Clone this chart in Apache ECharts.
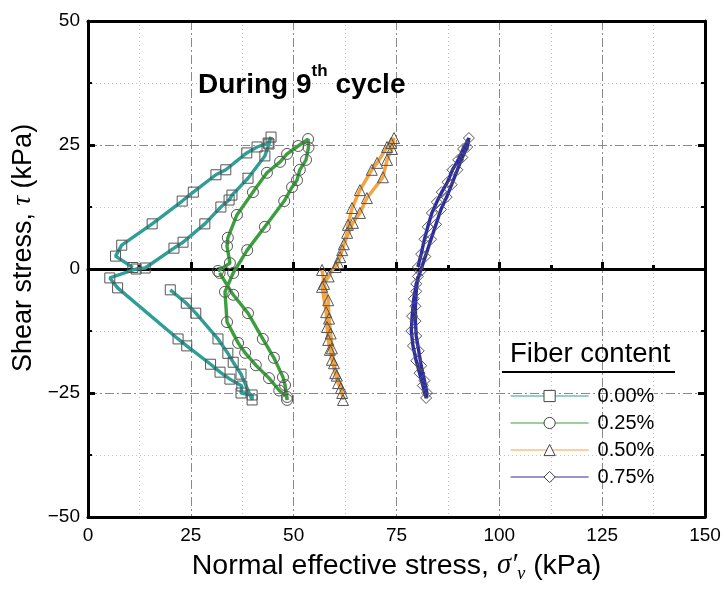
<!DOCTYPE html>
<html>
<head>
<meta charset="utf-8">
<script src="https://cdn.jsdelivr.net/npm/echarts@6/dist/echarts.min.js"></script>
<style>
  html, body { margin: 0; padding: 0; background: #fff; }
  #chart { width: 725px; height: 594px; }
</style>
</head>
<body>
<div id="chart"></div>
<script>
// fiber content labels
const fiberLabels = ['0.00%', '0.25%', '0.50%', '0.75%'];

// [normal effective stress (kPa), shear stress (kPa)]
const fiber000 = [
  [10.9, 0.3], [6.7, 2.6], [8.2, 4.8], [15.6, 9.1], [22.9, 13.7], [25.6, 15.5], [31.1, 19.0],
  [33.5, 20.0], [38.6, 23.4], [41.1, 24.6], [43.8, 25.4], [44.5, 26.6],
  [44.0, 25.2], [43.0, 22.8], [38.9, 18.3], [35.0, 14.9], [34.3, 13.9], [32.3, 12.5],
  [28.4, 9.1], [23.1, 5.4], [20.9, 4.2], [13.9, 0.2], [11.7, 0.0],
  [5.3, -1.8], [7.2, -3.8], [21.9, -14.1], [24.0, -15.5], [29.8, -19.2], [32.1, -20.8],
  [34.5, -22.2], [37.4, -23.6], [37.2, -25.0], [39.9, -25.4], [39.9, -26.4],
  [37.2, -21.2], [35.3, -18.8], [34.0, -17.0], [31.6, -14.1], [26.2, -8.9], [23.9, -6.9], [20.0, -4.2]
];
const fiber025 = [
  [31.6, -0.4], [34.5, 1.2], [33.8, 4.6], [34.0, 6.3], [36.2, 10.9], [40.1, 15.5], [43.5, 19.4],
  [46.7, 21.6], [48.4, 23.2], [51.1, 24.8], [53.5, 26.2],
  [53.6, 24.5], [53.0, 22.0], [51.5, 20.0], [50.8, 17.9], [49.6, 16.5], [47.7, 13.7],
  [43.0, 8.5], [38.7, 3.8], [35.3, -0.8],
  [33.3, -4.6], [33.8, -10.7], [36.5, -14.9], [38.2, -16.9], [40.8, -19.4], [44.0, -22.0],
  [46.5, -24.5], [48.4, -25.8], [48.4, -26.4],
  [47.9, -23.4], [47.4, -21.8], [45.2, -17.9], [42.5, -14.1], [38.9, -8.9], [35.3, -5.2], [32.0, -0.8]
];
const fiber050 = [
  [60.2, 0.4], [60.8, 1.2], [61.8, 3.8], [63.0, 7.3], [63.2, 8.9], [64.2, 12.3], [66.1, 15.9],
  [69.0, 20.0], [70.3, 21.4], [72.7, 24.6], [73.7, 25.4], [74.4, 26.4],
  [73.9, 24.2], [72.7, 22.0], [71.7, 18.5], [67.8, 14.3], [66.1, 11.3], [64.4, 9.3],
  [62.2, 5.0], [61.3, 2.4], [58.5, -1.5],
  [56.9, -3.6], [57.9, -8.7], [58.1, -11.7], [58.4, -14.3], [58.8, -16.3], [59.3, -18.3],
  [60.1, -21.0], [60.8, -23.0], [61.8, -25.0], [62.0, -26.4],
  [61.5, -24.0], [60.5, -21.5], [59.8, -19.0], [59.3, -16.0], [59.0, -13.0], [58.6, -10.0],
  [58.4, -6.3], [57.4, -3.0], [56.9, -0.2]
];
const fiber075 = [
  [80.2, 0.4], [81.0, 3.0], [81.8, 6.0], [82.6, 8.5], [83.6, 11.3], [84.8, 13.5], [86.0, 15.5],
  [87.4, 17.5], [88.6, 20.0], [90.0, 22.0], [91.2, 24.2], [92.6, 26.4],
  [92.2, 24.6], [91.0, 22.5], [89.8, 20.0], [88.4, 17.0], [87.2, 14.5], [85.8, 12.0],
  [84.6, 9.0], [83.4, 6.0], [82.0, 2.5], [80.8, -0.5], [79.8, -3.0], [79.2, -6.0],
  [78.8, -9.5], [78.6, -12.5], [79.0, -15.5], [79.8, -18.5], [80.6, -21.0], [81.4, -23.5], [82.2, -26.0],
  [82.4, -25.0], [81.8, -22.5], [81.0, -19.5], [80.4, -16.5], [79.8, -13.5], [79.6, -10.5],
  [79.6, -7.5], [79.8, -4.5], [80.2, -1.5]
];

const seriesData = [fiber000, fiber025, fiber050, fiber075];
const lineColors = ['#2f9e97', '#3a9f3c', '#f5a23f', '#2c2ca8'];
const markers = ['rect', 'circle', 'triangle', 'diamond'];
const markerSizes = [10, 11, 11, 11];

const FONT = 'Liberation Sans';

const chart = echarts.init(document.getElementById('chart'));

const gridDash = { color: '#8a8a8a', width: 1, type: [9, 3, 2, 3] };
const minorDot = { color: '#c4c4c4', width: 1, type: [1, 3] };

chart.setOption({
  animation: false,
  backgroundColor: '#fff',
  grid: { left: 88, right: 20, top: 21, bottom: 77, show: true, borderColor: '#000', borderWidth: 0 },
  title: [
    {
      text: '{a|During 9}{b|th}{a| cycle}',
      left: 193, top: 58,
      textStyle: {
        rich: {
          a: { fontFamily: FONT, fontWeight: 'bold', fontSize: 28, color: '#000', lineHeight: 36, verticalAlign: 'bottom' },
          b: { fontFamily: FONT, fontWeight: 'bold', fontSize: 17, color: '#000', verticalAlign: 'top', lineHeight: 36 }
        }
      }
    },
    {
      text: 'Fiber content',
      left: 505, top: 335,
      textStyle: { fontFamily: FONT, fontWeight: 'normal', fontSize: 27.5, color: '#000' }
    }
  ],
  graphic: [
    { type: 'line', shape: { x1: 502, y1: 372, x2: 675, y2: 372 }, style: { stroke: '#000', lineWidth: 2 } }
  ],
  legend: {
    data: fiberLabels,
    orient: 'vertical',
    left: 505, top: 381,
    itemWidth: 78, itemHeight: 14, itemGap: 7,
    textStyle: { fontFamily: FONT, fontSize: 20, color: '#000', padding: [0, 0, 0, 4] },
    lineStyle: { width: 1.2 },
    itemStyle: { color: '#fff', borderColor: '#444', borderWidth: 1 }
  },
  xAxis: [
    {
      type: 'value', min: 0, max: 150, interval: 25, position: 'bottom',
      name: '{n|Normal effective stress, }{s|σ′}{v|v}{n| (kPa)}',
      nameLocation: 'middle', nameGap: 32,
      nameTextStyle: {
        rich: {
          n: { fontFamily: FONT, fontSize: 28.5, color: '#000', lineHeight: 34 },
          s: { fontFamily: 'Liberation Serif', fontStyle: 'italic', fontSize: 28.5, color: '#000', lineHeight: 34 },
          v: { fontFamily: 'Liberation Serif', fontStyle: 'italic', fontSize: 18, color: '#000', verticalAlign: 'bottom', lineHeight: 26 }
        }
      },
      axisLine: { onZero: false, lineStyle: { color: '#000', width: 3 } },
      axisTick: { show: false },
      axisLabel: { fontFamily: FONT, fontSize: 19, color: '#000', margin: 9 },
      splitLine: { show: true, lineStyle: gridDash },
      minorTick: { show: false, splitNumber: 2 },
      minorSplitLine: { show: true, lineStyle: minorDot }
    },
    {
      type: 'value', min: 0, max: 150, interval: 25, position: 'top',
      axisLine: { onZero: false, lineStyle: { color: '#000', width: 3 } },
      axisTick: { show: false }, axisLabel: { show: false }, splitLine: { show: false }
    },
    {
      type: 'value', min: 0, max: 150, interval: 25, position: 'bottom',
      axisLine: { onZero: true, lineStyle: { color: '#000', width: 3 } },
      axisTick: { show: true, inside: true, length: 7, lineStyle: { color: '#000', width: 3 } },
      minorTick: { show: true, splitNumber: 2, length: 4, lineStyle: { color: '#000', width: 3 } },
      axisLabel: { show: false }, splitLine: { show: false }
    }
  ],
  yAxis: [
    {
      type: 'value', min: -50, max: 50, interval: 25, position: 'left',
      name: '{n|Shear stress, }{t|τ}{n| (kPa)}',
      nameLocation: 'middle', nameGap: 45,
      nameTextStyle: {
        padding: [0, 0, 0, 42],
        rich: {
          n: { fontFamily: FONT, fontSize: 27, color: '#000' },
          t: { fontFamily: 'Liberation Serif', fontStyle: 'italic', fontSize: 27, color: '#000' }
        }
      },
      axisLine: { onZero: false, lineStyle: { color: '#000', width: 3 } },
      axisTick: { show: true, inside: true, length: 7, lineStyle: { color: '#000', width: 3 } },
      minorTick: { show: true, splitNumber: 2, length: 4, lineStyle: { color: '#000', width: 2 } },
      axisLabel: {
        fontFamily: FONT, fontSize: 19, color: '#000', margin: 8,
        formatter: v => String(v).replace('-', '\u2212')
      },
      splitLine: { show: true, lineStyle: gridDash },
      minorSplitLine: { show: true, lineStyle: minorDot }
    },
    {
      type: 'value', min: -50, max: 50, interval: 25, position: 'right',
      axisLine: { onZero: false, lineStyle: { color: '#000', width: 3 } },
      axisTick: { show: true, inside: true, length: 7, lineStyle: { color: '#000', width: 3 } },
      minorTick: { show: true, splitNumber: 2, length: 4, lineStyle: { color: '#000', width: 2 } },
      axisLabel: { show: false }, splitLine: { show: false }
    }
  ],
  series: seriesData.map((d, i) => ({
    name: fiberLabels[i],
    type: 'line',
    xAxisIndex: 0, yAxisIndex: 0,
    data: d,
    symbol: markers[i],
    symbolSize: markerSizes[i],
    showAllSymbol: true,
    lineStyle: { color: lineColors[i], width: 3.4 },
    itemStyle: { color: lineColors[i], borderColor: '#555', borderWidth: 1, opacity: 1 },
    emphasis: { disabled: true },
    z: 3 + i
  }))
});

// hollow markers on the points
chart.setOption({
  series: seriesData.map(() => ({ itemStyle: { color: 'rgba(255,255,255,0)' } }))
});
</script>
</body>
</html>
